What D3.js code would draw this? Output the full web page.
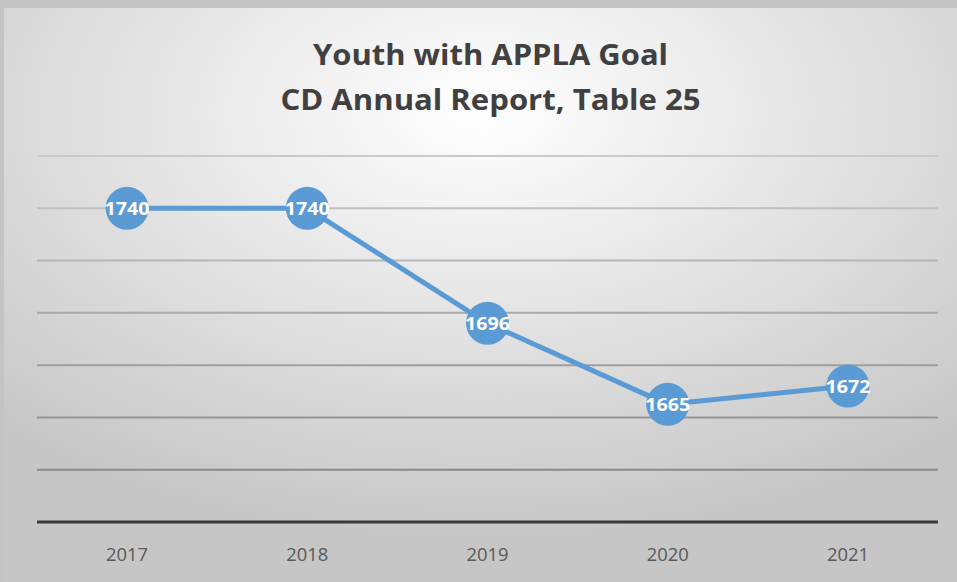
<!DOCTYPE html>
<html lang="en">
<head>
<meta charset="UTF-8">
<title>Youth with APPLA Goal</title>
<style>
  body { margin: 0; background: #fff; }
  text { font-family: "Open Sans", sans-serif; }
</style>
</head>
<body>
<div id="chart"></div>
<script src="https://d3js.org/d3.v7.min.js"></script>
<script>
// data
const years = ["2017", "2018", "2019", "2020", "2021"];
const youth = [1740, 1740, 1696, 1665, 1672];
const gridTicks = [1620, 1640, 1660, 1680, 1700, 1720, 1740, 1760];
const titleLines = ["Youth with APPLA Goal", "CD Annual Report, Table 25"];
const titleWidths = [355, 420]; // measured width of each title line

const W = 957, H = 582;
const margin = { top: 156, right: 19, bottom: 60, left: 37 };

const svg = d3.select("#chart").append("svg")
  .attr("width", W).attr("height", H);

// radial background
const defs = svg.append("defs");
const grad = defs.append("radialGradient").attr("id", "bg")
  .attr("cx", "50%").attr("cy", "18%").attr("r", "75%");
grad.append("stop").attr("offset", "0%").attr("stop-color", "#ffffff");
grad.append("stop").attr("offset", "100%").attr("stop-color", "#c6c6c6");

svg.append("rect").attr("x", 0).attr("y", 0).attr("width", W).attr("height", H)
  .attr("fill", "#c4c4c4");
svg.append("rect").attr("x", 4).attr("y", 8).attr("width", W - 4).attr("height", H - 8)
  .attr("fill", "url(#bg)");

const x = d3.scalePoint().domain(years)
  .range([margin.left, W - margin.right]).padding(0.5);
const y = d3.scaleLinear().domain([1620, 1760])
  .range([H - margin.bottom, margin.top]);

// gridlines
svg.append("g").selectAll("line")
  .data(gridTicks.filter(d => d !== 1620))
  .join("line")
  .attr("x1", margin.left).attr("x2", W - margin.right)
  .attr("y1", d => y(d)).attr("y2", d => y(d))
  .attr("stroke", (d, i) => d3.interpolateRgb("#8a8a8a", "#cacaca")(i / 6))
  .attr("stroke-width", 2);

// x axis line
svg.append("line")
  .attr("x1", margin.left).attr("x2", W - margin.right)
  .attr("y1", y(1620)).attr("y2", y(1620))
  .attr("stroke", "#3a3a3a").attr("stroke-width", 3);

// x labels
svg.append("g").selectAll("text")
  .data(years).join("text")
  .attr("x", d => x(d)).attr("y", y(1620) + 39)
  .attr("text-anchor", "middle")
  .attr("fill", "#595959").attr("font-size", 18)
  .attr("textLength", 42).attr("lengthAdjust", "spacingAndGlyphs")
  .text(d => d);

// title
svg.append("g").selectAll("text")
  .data(titleLines).join("text")
  .attr("x", W / 2 + 12).attr("y", (d, i) => 65 + i * 45)
  .attr("text-anchor", "middle")
  .attr("fill", "#404040").attr("font-size", 28).attr("font-weight", "bold")
  .attr("textLength", (d, i) => titleWidths[i]).attr("lengthAdjust", "spacingAndGlyphs")
  .text(d => d);

// line + markers
const line = d3.line().x((d, i) => x(years[i])).y(d => y(d));
svg.append("path").datum(youth)
  .attr("d", line).attr("fill", "none")
  .attr("stroke", "#5b9bd5").attr("stroke-width", 5)
  .attr("stroke-linejoin", "round");

const pts = svg.append("g").selectAll("g")
  .data(youth).join("g")
  .attr("transform", (d, i) => `translate(${x(years[i])},${y(d)})`);
pts.append("circle").attr("r", 21.5).attr("fill", "#5b9bd5");
pts.append("text")
  .attr("text-anchor", "middle").attr("dy", "0.36em")
  .attr("fill", "#fff").attr("font-size", 18).attr("font-weight", "bold")
  .attr("textLength", 45).attr("lengthAdjust", "spacingAndGlyphs")
  .text(d => d);
</script>
</body>
</html>
